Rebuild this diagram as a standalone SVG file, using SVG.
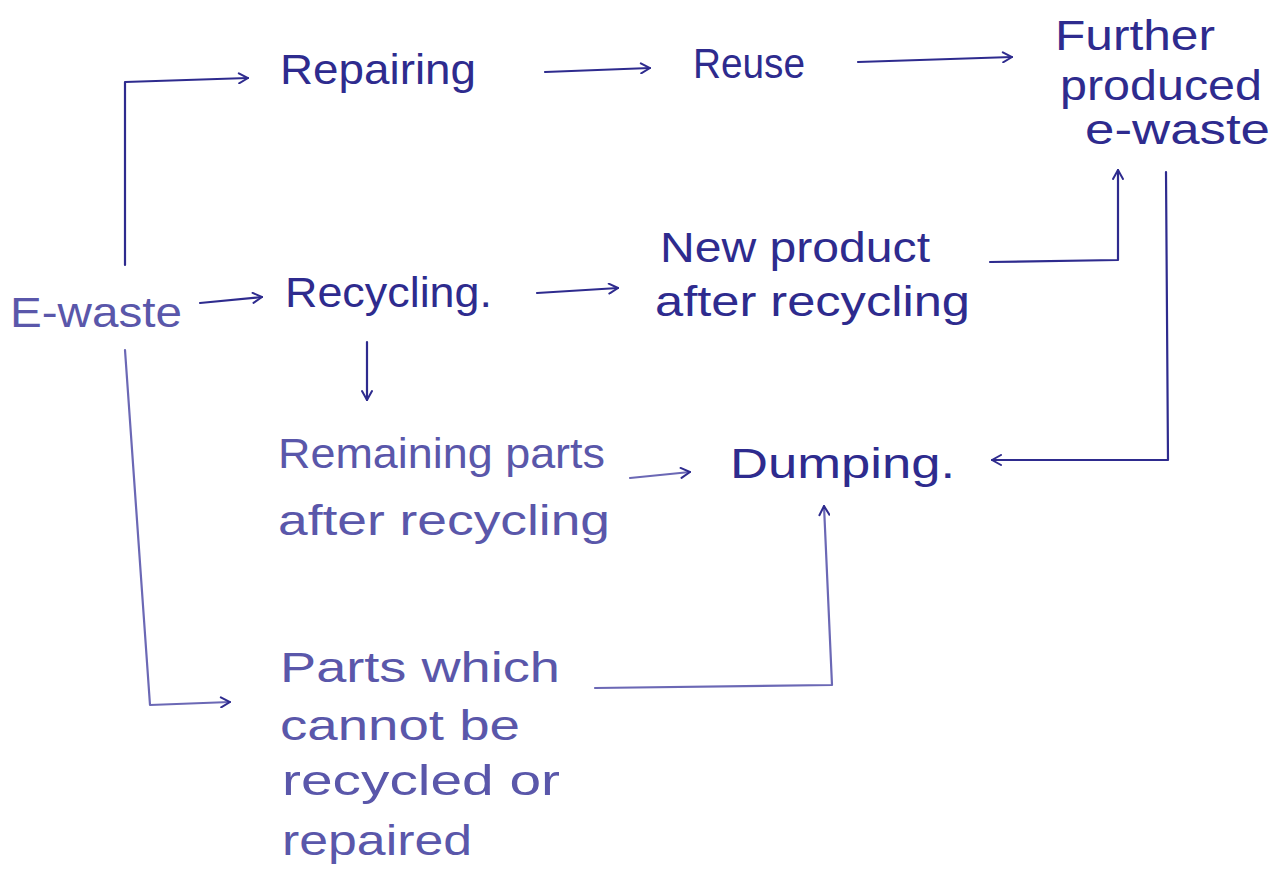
<svg xmlns="http://www.w3.org/2000/svg" width="1283" height="890" viewBox="0 0 1283 890">
<style>
text{font-family:"Liberation Sans","DejaVu Sans",sans-serif;font-size:42px;fill:#2e2b8e;}
.f{fill:#5a57aa;}
.c{fill:none;stroke:#2e2b8e;stroke-width:2.2;stroke-linecap:round;stroke-linejoin:round;}
.cl{stroke:#6b68b5;}
</style>
<defs>
<marker id="a" viewBox="0 0 12 12" refX="11" refY="6" markerWidth="12" markerHeight="12" markerUnits="userSpaceOnUse" orient="auto">
<path d="M2,1 L11,6 L2,11" fill="none" stroke="#2e2b8e" stroke-width="2" stroke-linecap="round"/>
</marker>
</defs>
<rect width="1283" height="890" fill="#ffffff"/>
<g id="connectors">
<path class="c" d="M125,265 L125,82 L248,78" marker-end="url(#a)"/>
<path class="c" d="M545,72 L650,68" marker-end="url(#a)"/>
<path class="c" d="M858,62 L1012,57" marker-end="url(#a)"/>
<path class="c" d="M200,303 L262,297" marker-end="url(#a)"/>
<path class="c" d="M537,293 L618,288" marker-end="url(#a)"/>
<path class="c" d="M990,262 L1118,260 L1118,170" marker-end="url(#a)"/>
<path class="c" d="M1166,172 L1168,460 L992,460" marker-end="url(#a)"/>
<path class="c" d="M367,342 L367,400" marker-end="url(#a)"/>
<path class="c cl" d="M630,478 L690,472" marker-end="url(#a)"/>
<path class="c cl" d="M125,350 L150,705 L230,702" marker-end="url(#a)"/>
<path class="c cl" d="M595,688 L832,685 L824,506" marker-end="url(#a)"/>
</g>
<g id="n-ewaste"><text class="f" x="10" y="327" textLength="172" lengthAdjust="spacingAndGlyphs">E-waste</text></g>
<g id="n-repairing"><text x="280" y="84" textLength="196" lengthAdjust="spacingAndGlyphs">Repairing</text></g>
<g id="n-reuse"><text x="693" y="78" textLength="112" lengthAdjust="spacingAndGlyphs">Reuse</text></g>
<g id="n-further">
<text x="1055" y="50" textLength="160" lengthAdjust="spacingAndGlyphs">Further</text>
<text x="1060" y="100" textLength="202" lengthAdjust="spacingAndGlyphs">produced</text>
<text x="1085" y="144" textLength="185" lengthAdjust="spacingAndGlyphs">e-waste</text>
</g>
<g id="n-recycling"><text x="285" y="307" textLength="207" lengthAdjust="spacingAndGlyphs">Recycling.</text></g>
<g id="n-newproduct">
<text x="660" y="262" textLength="270" lengthAdjust="spacingAndGlyphs">New product</text>
<text x="655" y="316" textLength="315" lengthAdjust="spacingAndGlyphs">after recycling</text>
</g>
<g id="n-remaining">
<text class="f" x="278" y="468" textLength="327" lengthAdjust="spacingAndGlyphs">Remaining parts</text>
<text class="f" x="278" y="535" textLength="332" lengthAdjust="spacingAndGlyphs">after recycling</text>
</g>
<g id="n-dumping"><text x="730" y="478" textLength="225" lengthAdjust="spacingAndGlyphs">Dumping.</text></g>
<g id="n-parts">
<text class="f" x="280" y="682" textLength="280" lengthAdjust="spacingAndGlyphs">Parts which</text>
<text class="f" x="280" y="740" textLength="240" lengthAdjust="spacingAndGlyphs">cannot be</text>
<text class="f" x="282" y="795" textLength="278" lengthAdjust="spacingAndGlyphs">recycled or</text>
<text class="f" x="282" y="855" textLength="190" lengthAdjust="spacingAndGlyphs">repaired</text>
</g>
</svg>
